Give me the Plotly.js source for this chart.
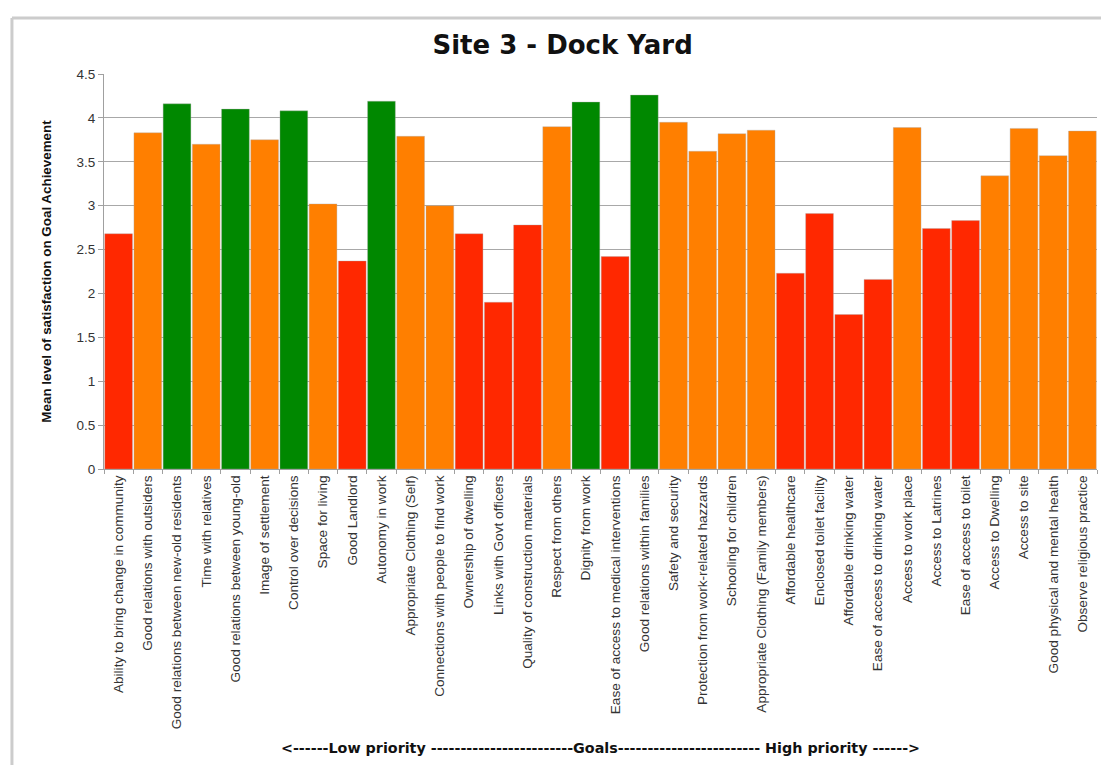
<!DOCTYPE html>
<html>
<head>
<meta charset="utf-8">
<script src="https://cdn.plot.ly/plotly-3.0.1.min.js"></script>
<style>
  html, body { margin: 0; padding: 0; background: #ffffff; }
  #chart { width: 1101px; height: 765px; }
</style>
</head>
<body>
<div id="chart"></div>
<script>
// Goals, ordered from low to high priority
const goals = [
  "Ability to bring change in community",
  "Good relations with outsiders",
  "Good relations between new-old residents",
  "Time with relatives",
  "Good relations between young-old",
  "Image of settlement",
  "Control over decisions",
  "Space for living",
  "Good Landlord",
  "Autonomy in work",
  "Appropriate Clothing (Self)",
  "Connections with people to find work",
  "Ownership of dwelling",
  "Links with Govt officers",
  "Quality of construction materials",
  "Respect from others",
  "Dignity from work",
  "Ease of access to medical interventions",
  "Good relations within families",
  "Safety and security",
  "Protection from work-related hazzards",
  "Schooling for children",
  "Appropriate Clothing (Family members)",
  "Affordable healthcare",
  "Enclosed toilet facility",
  "Affordable drinking water",
  "Ease of access to drinking water",
  "Access to work place",
  "Access to Latrines",
  "Ease of access to toilet",
  "Access to Dwelling",
  "Access to site",
  "Good physical and mental health",
  "Observe religious practice"
];

// Mean satisfaction score for each goal
const meanSatisfaction = [
  2.68, 3.83, 4.16, 3.70, 4.10, 3.75, 4.08, 3.02, 2.37, 4.19,
  3.79, 3.00, 2.68, 1.90, 2.78, 3.90, 4.18, 2.42, 4.26, 3.95,
  3.62, 3.82, 3.86, 2.23, 2.91, 1.76, 2.16, 3.89, 2.74, 2.83,
  3.34, 3.88, 3.57, 3.85
];

// Achievement band of each goal: "low", "mid" or "high"
const band = [
  "low", "mid", "high", "mid", "high", "mid", "high", "mid", "low", "high",
  "mid", "mid", "low", "low", "low", "mid", "high", "low", "high", "mid",
  "mid", "mid", "mid", "low", "low", "low", "low", "mid", "low", "low",
  "mid", "mid", "mid", "mid"
];

const bandColours = { low: "#ff2800", mid: "#ff7f00", high: "#008800" };

const yTicks = [0, 0.5, 1, 1.5, 2, 2.5, 3, 3.5, 4, 4.5];

const fontFamily = "Liberation Sans, Arial, sans-serif";
const wideBold = "DejaVu Sans, Liberation Sans, Arial, sans-serif";

const trace = {
  type: "bar",
  x: goals,
  y: meanSatisfaction,
  marker: {
    color: band.map(b => bandColours[b]),
    line: { color: "rgba(170,170,170,0.6)", width: 0.6 }
  },
  hoverinfo: "x+y"
};

const layout = {
  width: 1101,
  height: 765,
  margin: { l: 104, r: 4, t: 74, b: 296 },
  paper_bgcolor: "#ffffff",
  plot_bgcolor: "#ffffff",
  bargap: 0.05,
  showlegend: false,
  font: { family: fontFamily, color: "#333333" },
  title: {
    text: "<b>Site 3 - Dock Yard</b>",
    font: { family: wideBold, size: 26, color: "#111111" },
    xref: "container",
    x: 0.511,
    xanchor: "center",
    yref: "container",
    y: 0.941,
    yanchor: "middle"
  },
  xaxis: {
    type: "category",
    tickangle: -90,
    tickfont: { family: fontFamily, size: 13.6, color: "#333333" },
    ticks: "outside",
    tickson: "boundaries",
    ticklen: 4,
    tickcolor: "#a0a0a0",
    showline: true,
    linecolor: "#a0a0a0",
    linewidth: 1,
    showgrid: false,
    title: {
      text: "<b>&lt;------Low priority ------------------------Goals------------------------ High priority ------&gt;</b>",
      font: { family: wideBold, size: 14.3, color: "#111111" },
      standoff: 14
    },
    automargin: false
  },
  yaxis: {
    range: [0, 4.5],
    tickvals: yTicks,
    ticktext: yTicks.map(v => String(v)),
    tickfont: { family: fontFamily, size: 13.5, color: "#333333" },
    ticks: "outside",
    ticklen: 5,
    tickcolor: "#a0a0a0",
    showline: true,
    linecolor: "#a0a0a0",
    linewidth: 1,
    showgrid: true,
    gridcolor: "#a8a8a8",
    gridwidth: 1,
    zeroline: false,
    title: {
      text: "<b>Mean level of satisfaction on Goal Achievement</b>",
      font: { family: fontFamily, size: 13.4, color: "#111111" },
      standoff: 21
    },
    automargin: false
  },
  shapes: [
    // outer frame: left and top edges
    {
      type: "line", xref: "paper", yref: "paper",
      x0: -0.0927, x1: -0.0927, y0: 1.1418, y1: -0.8,
      line: { color: "#cccccc", width: 3 }
    },
    {
      type: "line", xref: "paper", yref: "paper",
      x0: -0.0927, x1: 1.02, y0: 1.1418, y1: 1.1418,
      line: { color: "#cccccc", width: 3 }
    }
  ]
};

Plotly.newPlot("chart", [trace], layout, { displayModeBar: false, staticPlot: true });
</script>
</body>
</html>
